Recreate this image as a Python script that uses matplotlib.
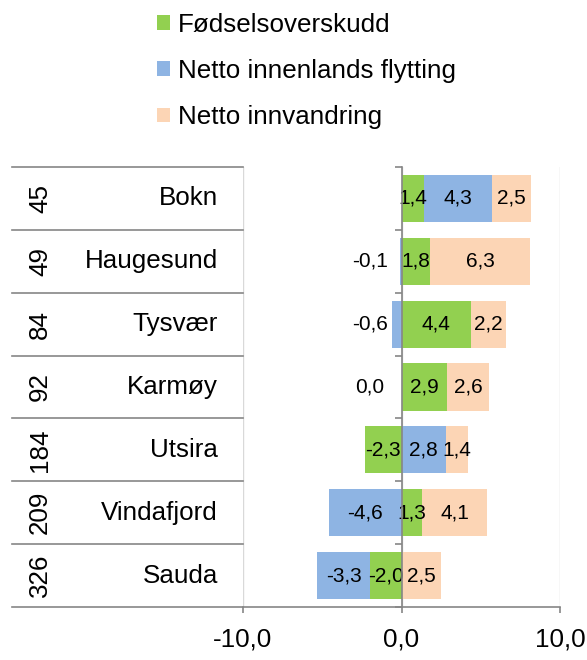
import matplotlib
matplotlib.use("Agg")
import matplotlib.pyplot as plt
from matplotlib.patches import Patch
import numpy as np

plt.rcParams['font.family'] = ['Liberation Sans', 'DejaVu Sans']

# data
kommuner = ['Bokn', 'Haugesund', 'Tysvær', 'Karmøy', 'Utsira', 'Vindafjord', 'Sauda']
rang = [45, 49, 84, 92, 184, 209, 326]
fodsel = [1.4, 1.8, 4.4, 2.9, -2.3, 1.3, -2.0]
innenlands = [4.3, -0.1, -0.6, 0.0, 2.8, -4.6, -3.3]
innvandring = [2.5, 6.3, 2.2, 2.6, 1.4, 4.1, 2.5]
serie_navn = ['Fødselsoverskudd', 'Netto innenlands flytting', 'Netto innvandring']
xticks = [-10, 0, 10]

farger = ['#92D050', '#8EB4E3', '#FCD5B5']
grey = '#868686'
fs = 18.7
fs_lab = 15

fig = plt.figure(figsize=(5.87, 6.60), dpi=100)
ax = fig.add_axes([243 / 587, 53 / 660, 317 / 587, 440 / 660])

y = np.arange(len(kommuner))
pos_base = np.zeros(len(kommuner))
neg_base = np.zeros(len(kommuner))
for serie, farge in zip([fodsel, innenlands, innvandring], farger):
    v = np.array(serie)
    left = np.where(v >= 0, pos_base, neg_base)
    ax.barh(y, v, left=left, height=0.75, color=farge, zorder=2)
    for i, val in enumerate(v):
        txt = f"{val:.1f}".replace('.', ',')
        if abs(val) < 1 and val <= 0:
            # small values placed left of the axis
            ax.text(-2.0, y[i], txt, ha='center', va='center', fontsize=fs_lab, zorder=3)
        else:
            ax.text(left[i] + val / 2, y[i], txt, ha='center', va='center', fontsize=fs_lab, zorder=3)
    pos_base = pos_base + np.where(v >= 0, v, 0)
    neg_base = neg_base + np.where(v < 0, v, 0)

ax.set_xlim(-10, 10)
ax.set_ylim(len(kommuner) - 0.5, -0.5)
ax.set_xticks(xticks)
ax.set_xticklabels([f"{t:.1f}".replace('.', ',') for t in xticks], fontsize=fs)
ax.set_yticks(np.arange(len(kommuner) + 1) - 0.5)
ax.set_yticklabels([])
ax.xaxis.grid(True, color='#D9D9D9', linewidth=1.0, zorder=0)
ax.set_axisbelow(True)

for s in ['top', 'right']:
    ax.spines[s].set_visible(False)
ax.spines['left'].set_position(('data', 0))
ax.spines['left'].set_color(grey)
ax.spines['left'].set_zorder(4)
ax.spines['bottom'].set_color(grey)
ax.spines['bottom'].set_linewidth(1.2)
ax.spines['left'].set_linewidth(1.2)
ax.tick_params(axis='x', colors=grey, length=4, width=1.2, pad=11, labelcolor='black')
ax.tick_params(axis='y', colors=grey, length=5, width=1.2, direction='out')

# category table to the left
tab_left = (12 - 243) / 317
for b in np.arange(len(kommuner) + 1) - 0.5:
    ax.plot([tab_left, 0], [b, b], color=grey, linewidth=1.2,
            transform=ax.get_yaxis_transform(), clip_on=False)
for i, (navn, r) in enumerate(zip(kommuner, rang)):
    ax.text(-0.079, y[i], navn, ha='right', va='center', fontsize=fs,
            transform=ax.get_yaxis_transform())
    ax.text(-0.64, y[i], str(r), ha='center', va='center', fontsize=fs, rotation=90,
            transform=ax.get_yaxis_transform())

handles = [Patch(facecolor=f, edgecolor='none') for f in farger]
fig.legend(handles, serie_navn, loc='upper left', bbox_to_anchor=(157 / 587, 1 - 13 / 660),
           frameon=False, fontsize=fs, handlelength=0.5, handleheight=0.5,
           handletextpad=0.3, labelspacing=0.85, borderpad=0, borderaxespad=0)

fig.savefig('out.png', dpi=100)
